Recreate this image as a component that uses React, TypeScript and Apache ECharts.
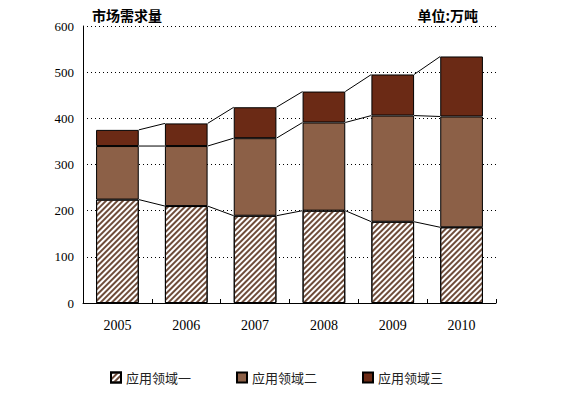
import React, { useEffect, useRef } from "react";
import * as echarts from "echarts";

const years = ["2005", "2006", "2007", "2008", "2009", "2010"];
const seriesNames = ["应用领域一", "应用领域二", "应用领域三"];
const field1 = [224, 210, 189, 200, 176, 164];
const field2 = [116, 130, 168, 191, 230, 240];
const field3 = [35, 49, 67, 67, 89, 130];
const yTicks = { min: 0, max: 600, interval: 100 };

const serif = "Liberation Serif";
const cjk = "Noto Sans CJK SC";

export default function App() {
  const ref = useRef<HTMLDivElement>(null);
  useEffect(() => {
    if (!ref.current) return;
    const chart = echarts.init(ref.current, undefined, { renderer: "svg" });
    const cum1 = field1.slice();
    const cum2 = field1.map((v, i) => v + field2[i]);
    const cum3 = cum2.map((v, i) => v + field3[i]);
    const connData: number[][] = [];
    [cum1, cum2, cum3].forEach((arr) => {
      for (let i = 0; i < arr.length - 1; i++) connData.push([i, arr[i], arr[i + 1]]);
    });
    const barRatio = 0.62;
    chart.setOption({
      animation: false,
      title: [
        {
          text: "市场需求量",
          left: 87,
          top: 3,
          textStyle: { fontSize: 14, fontWeight: "bold", fontFamily: cjk, color: "#000" },
        },
        {
          text: "单位:万吨",
          right: 82,
          top: 3,
          textStyle: { fontSize: 14, fontWeight: "bold", fontFamily: cjk, color: "#000" },
        },
      ],
      legend: {
        data: seriesNames,
        left: 105,
        top: 366,
        icon: "rect",
        itemWidth: 10,
        itemHeight: 10,
        itemGap: 45,
        textStyle: { fontSize: 13, fontFamily: cjk, color: "#222" },
      },
      grid: { left: 83, right: 69, top: 26, bottom: 91 },
      xAxis: {
        type: "category",
        data: years,
        axisLine: { lineStyle: { color: "#000", width: 1 } },
        axisTick: { show: true, inside: true, length: 4, lineStyle: { color: "#000" } },
        axisLabel: { fontSize: 14, fontFamily: serif, color: "#000", margin: 15 },
      },
      yAxis: {
        type: "value",
        min: yTicks.min,
        max: yTicks.max,
        interval: yTicks.interval,
        axisLine: { show: true, lineStyle: { color: "#000", width: 1 } },
        axisTick: { show: false },
        axisLabel: { fontSize: 13, fontFamily: serif, color: "#000", margin: 9 },
        splitLine: { show: true, lineStyle: { color: "#000", type: [1, 3], width: 1 } },
      },
      series: [
        {
          name: seriesNames[0],
          type: "bar",
          stack: "total",
          data: field1,
          barWidth: "62%",
          itemStyle: {
            color: "#ffffff",
            borderColor: "#000",
            borderWidth: 1,
            decal: {
              symbol: "rect",
              color: "#6e4c3a",
              dashArrayX: [1, 0],
              dashArrayY: [1.4, 1.6],
              rotation: -Math.PI / 4,
            },
          },
        },
        {
          name: seriesNames[1],
          type: "bar",
          stack: "total",
          data: field2,
          barWidth: "62%",
          itemStyle: { color: "#8c6047", borderColor: "#000", borderWidth: 1 },
        },
        {
          name: seriesNames[2],
          type: "bar",
          stack: "total",
          data: field3,
          barWidth: "62%",
          itemStyle: { color: "#6b2a15", borderColor: "#000", borderWidth: 1 },
        },
        {
          name: "connectors",
          type: "custom",
          data: connData,
          silent: true,
          renderItem: (params: any, api: any) => {
            const i = api.value(0);
            const p1 = api.coord([i, api.value(1)]);
            const p2 = api.coord([i + 1, api.value(2)]);
            const half = (api.size([1, 0])[0] * barRatio) / 2;
            return {
              type: "line",
              shape: { x1: p1[0] + half, y1: p1[1], x2: p2[0] - half, y2: p2[1] },
              style: { stroke: "#000", lineWidth: 1 },
            };
          },
        },
      ],
    });
    return () => chart.dispose();
  }, []);
  return (
    <div
      ref={ref}
      style={{ position: "fixed", left: 0, top: 0, width: 565, height: 394, background: "#fff" }}
    />
  );
}
